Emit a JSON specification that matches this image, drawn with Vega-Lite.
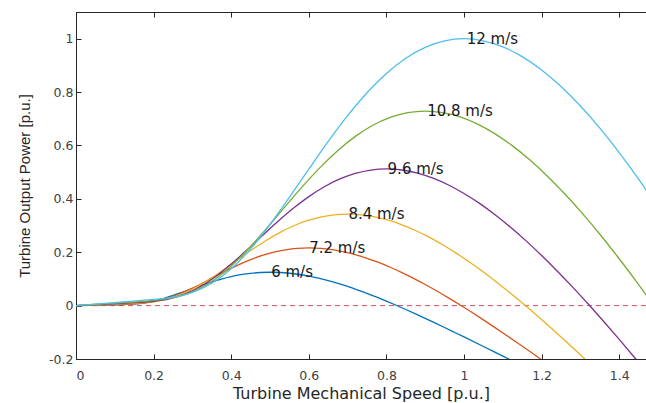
{
  "$schema": "https://vega.github.io/schema/vega-lite/v6.json",
  "width": 570,
  "height": 347,
  "autosize": "none",
  "padding": {"left": 76, "top": 12, "right": 0, "bottom": 44},
  "background": "white",
  "config": {
    "view": {"stroke": "#262626", "strokeWidth": 1},
    "font": "DejaVu Sans",
    "axis": {
      "grid": false,
      "domainColor": "#262626",
      "tickColor": "#262626",
      "tickSize": -5,
      "labelFont": "DejaVu Sans",
      "labelFontSize": 12.5,
      "labelColor": "#404040",
      "titleColor": "#262626",
      "titleFontWeight": "normal"
    }
  },
  "datasets": {
    "curves": [
      {"s":"6 m/s","x":0,"p":0},{"s":"6 m/s","x":0.025,"p":0.0007},{"s":"6 m/s","x":0.05,"p":0.0014},{"s":"6 m/s","x":0.075,"p":0.0022},{"s":"6 m/s","x":0.1,"p":0.0029},{"s":"6 m/s","x":0.125,"p":0.004},{"s":"6 m/s","x":0.15,"p":0.0062},{"s":"6 m/s","x":0.175,"p":0.0105},{"s":"6 m/s","x":0.2,"p":0.0173},{"s":"6 m/s","x":0.225,"p":0.0266},{"s":"6 m/s","x":0.25,"p":0.038},{"s":"6 m/s","x":0.275,"p":0.0507},{"s":"6 m/s","x":0.3,"p":0.0639},{"s":"6 m/s","x":0.325,"p":0.0769},{"s":"6 m/s","x":0.35,"p":0.089},{"s":"6 m/s","x":0.375,"p":0.0997},{"s":"6 m/s","x":0.4,"p":0.1087},{"s":"6 m/s","x":0.425,"p":0.1159},{"s":"6 m/s","x":0.45,"p":0.121},{"s":"6 m/s","x":0.475,"p":0.124},{"s":"6 m/s","x":0.5,"p":0.125},{"s":"6 m/s","x":0.525,"p":0.124},{"s":"6 m/s","x":0.55,"p":0.1212},{"s":"6 m/s","x":0.575,"p":0.1166},{"s":"6 m/s","x":0.6,"p":0.1104},{"s":"6 m/s","x":0.625,"p":0.1026},{"s":"6 m/s","x":0.65,"p":0.0935},{"s":"6 m/s","x":0.675,"p":0.0831},{"s":"6 m/s","x":0.7,"p":0.0717},{"s":"6 m/s","x":0.725,"p":0.0592},{"s":"6 m/s","x":0.75,"p":0.0459},{"s":"6 m/s","x":0.775,"p":0.0317},{"s":"6 m/s","x":0.8,"p":0.0169},{"s":"6 m/s","x":0.825,"p":0.0014},{"s":"6 m/s","x":0.85,"p":-0.0145},{"s":"6 m/s","x":0.875,"p":-0.0309},{"s":"6 m/s","x":0.9,"p":-0.0477},{"s":"6 m/s","x":0.925,"p":-0.0648},{"s":"6 m/s","x":0.95,"p":-0.0821},{"s":"6 m/s","x":0.975,"p":-0.0997},{"s":"6 m/s","x":1.0,"p":-0.1174},{"s":"6 m/s","x":1.05,"p":-0.1531},{"s":"6 m/s","x":1.1,"p":-0.1891},{"s":"6 m/s","x":1.15,"p":-0.225},
      {"s":"7.2 m/s","x":0,"p":0},{"s":"7.2 m/s","x":0.03,"p":0.0012},{"s":"7.2 m/s","x":0.06,"p":0.0025},{"s":"7.2 m/s","x":0.09,"p":0.0037},{"s":"7.2 m/s","x":0.12,"p":0.005},{"s":"7.2 m/s","x":0.15,"p":0.0069},{"s":"7.2 m/s","x":0.18,"p":0.0108},{"s":"7.2 m/s","x":0.21,"p":0.0181},{"s":"7.2 m/s","x":0.24,"p":0.0298},{"s":"7.2 m/s","x":0.27,"p":0.0459},{"s":"7.2 m/s","x":0.3,"p":0.0656},{"s":"7.2 m/s","x":0.33,"p":0.0876},{"s":"7.2 m/s","x":0.36,"p":0.1105},{"s":"7.2 m/s","x":0.39,"p":0.1329},{"s":"7.2 m/s","x":0.42,"p":0.1537},{"s":"7.2 m/s","x":0.45,"p":0.1723},{"s":"7.2 m/s","x":0.48,"p":0.1879},{"s":"7.2 m/s","x":0.51,"p":0.2002},{"s":"7.2 m/s","x":0.54,"p":0.209},{"s":"7.2 m/s","x":0.57,"p":0.2143},{"s":"7.2 m/s","x":0.6,"p":0.216},{"s":"7.2 m/s","x":0.63,"p":0.2143},{"s":"7.2 m/s","x":0.66,"p":0.2094},{"s":"7.2 m/s","x":0.69,"p":0.2015},{"s":"7.2 m/s","x":0.72,"p":0.1907},{"s":"7.2 m/s","x":0.75,"p":0.1773},{"s":"7.2 m/s","x":0.78,"p":0.1616},{"s":"7.2 m/s","x":0.81,"p":0.1437},{"s":"7.2 m/s","x":0.84,"p":0.1238},{"s":"7.2 m/s","x":0.87,"p":0.1023},{"s":"7.2 m/s","x":0.9,"p":0.0792},{"s":"7.2 m/s","x":0.93,"p":0.0548},{"s":"7.2 m/s","x":0.96,"p":0.0291},{"s":"7.2 m/s","x":0.99,"p":0.0025},{"s":"7.2 m/s","x":1.02,"p":-0.0251},{"s":"7.2 m/s","x":1.05,"p":-0.0534},{"s":"7.2 m/s","x":1.08,"p":-0.0824},{"s":"7.2 m/s","x":1.11,"p":-0.1119},{"s":"7.2 m/s","x":1.14,"p":-0.1419},{"s":"7.2 m/s","x":1.17,"p":-0.1722},{"s":"7.2 m/s","x":1.2,"p":-0.2028},
      {"s":"8.4 m/s","x":0,"p":0},{"s":"8.4 m/s","x":0.035,"p":0.002},{"s":"8.4 m/s","x":0.07,"p":0.0039},{"s":"8.4 m/s","x":0.105,"p":0.0059},{"s":"8.4 m/s","x":0.14,"p":0.008},{"s":"8.4 m/s","x":0.175,"p":0.011},{"s":"8.4 m/s","x":0.21,"p":0.0171},{"s":"8.4 m/s","x":0.245,"p":0.0287},{"s":"8.4 m/s","x":0.28,"p":0.0474},{"s":"8.4 m/s","x":0.315,"p":0.073},{"s":"8.4 m/s","x":0.35,"p":0.1042},{"s":"8.4 m/s","x":0.385,"p":0.1392},{"s":"8.4 m/s","x":0.42,"p":0.1754},{"s":"8.4 m/s","x":0.455,"p":0.211},{"s":"8.4 m/s","x":0.49,"p":0.2441},{"s":"8.4 m/s","x":0.525,"p":0.2736},{"s":"8.4 m/s","x":0.56,"p":0.2983},{"s":"8.4 m/s","x":0.595,"p":0.318},{"s":"8.4 m/s","x":0.63,"p":0.3319},{"s":"8.4 m/s","x":0.665,"p":0.3402},{"s":"8.4 m/s","x":0.7,"p":0.343},{"s":"8.4 m/s","x":0.735,"p":0.3403},{"s":"8.4 m/s","x":0.77,"p":0.3325},{"s":"8.4 m/s","x":0.805,"p":0.3199},{"s":"8.4 m/s","x":0.84,"p":0.3028},{"s":"8.4 m/s","x":0.875,"p":0.2815},{"s":"8.4 m/s","x":0.91,"p":0.2566},{"s":"8.4 m/s","x":0.945,"p":0.2281},{"s":"8.4 m/s","x":0.98,"p":0.1966},{"s":"8.4 m/s","x":1.015,"p":0.1624},{"s":"8.4 m/s","x":1.05,"p":0.1258},{"s":"8.4 m/s","x":1.085,"p":0.087},{"s":"8.4 m/s","x":1.12,"p":0.0463},{"s":"8.4 m/s","x":1.155,"p":0.0039},{"s":"8.4 m/s","x":1.19,"p":-0.0398},{"s":"8.4 m/s","x":1.225,"p":-0.0848},{"s":"8.4 m/s","x":1.26,"p":-0.1308},{"s":"8.4 m/s","x":1.295,"p":-0.1777},{"s":"8.4 m/s","x":1.33,"p":-0.2253},
      {"s":"9.6 m/s","x":0,"p":0},{"s":"9.6 m/s","x":0.04,"p":0.0029},{"s":"9.6 m/s","x":0.08,"p":0.0059},{"s":"9.6 m/s","x":0.12,"p":0.0088},{"s":"9.6 m/s","x":0.16,"p":0.0119},{"s":"9.6 m/s","x":0.2,"p":0.0164},{"s":"9.6 m/s","x":0.24,"p":0.0255},{"s":"9.6 m/s","x":0.28,"p":0.0429},{"s":"9.6 m/s","x":0.32,"p":0.0707},{"s":"9.6 m/s","x":0.36,"p":0.1089},{"s":"9.6 m/s","x":0.4,"p":0.1556},{"s":"9.6 m/s","x":0.44,"p":0.2077},{"s":"9.6 m/s","x":0.48,"p":0.2618},{"s":"9.6 m/s","x":0.52,"p":0.3149},{"s":"9.6 m/s","x":0.56,"p":0.3644},{"s":"9.6 m/s","x":0.6,"p":0.4084},{"s":"9.6 m/s","x":0.64,"p":0.4453},{"s":"9.6 m/s","x":0.68,"p":0.4746},{"s":"9.6 m/s","x":0.72,"p":0.4954},{"s":"9.6 m/s","x":0.76,"p":0.5079},{"s":"9.6 m/s","x":0.8,"p":0.512},{"s":"9.6 m/s","x":0.84,"p":0.508},{"s":"9.6 m/s","x":0.88,"p":0.4964},{"s":"9.6 m/s","x":0.92,"p":0.4775},{"s":"9.6 m/s","x":0.96,"p":0.452},{"s":"9.6 m/s","x":1.0,"p":0.4202},{"s":"9.6 m/s","x":1.04,"p":0.383},{"s":"9.6 m/s","x":1.08,"p":0.3405},{"s":"9.6 m/s","x":1.12,"p":0.2935},{"s":"9.6 m/s","x":1.16,"p":0.2425},{"s":"9.6 m/s","x":1.2,"p":0.1878},{"s":"9.6 m/s","x":1.24,"p":0.1298},{"s":"9.6 m/s","x":1.28,"p":0.0691},{"s":"9.6 m/s","x":1.32,"p":0.0059},{"s":"9.6 m/s","x":1.36,"p":-0.0594},{"s":"9.6 m/s","x":1.4,"p":-0.1266},{"s":"9.6 m/s","x":1.44,"p":-0.1953},{"s":"9.6 m/s","x":1.48,"p":-0.2653},
      {"s":"10.8 m/s","x":0,"p":0},{"s":"10.8 m/s","x":0.045,"p":0.0042},{"s":"10.8 m/s","x":0.09,"p":0.0084},{"s":"10.8 m/s","x":0.135,"p":0.0125},{"s":"10.8 m/s","x":0.18,"p":0.017},{"s":"10.8 m/s","x":0.225,"p":0.0234},{"s":"10.8 m/s","x":0.27,"p":0.0363},{"s":"10.8 m/s","x":0.315,"p":0.061},{"s":"10.8 m/s","x":0.36,"p":0.1007},{"s":"10.8 m/s","x":0.405,"p":0.1551},{"s":"10.8 m/s","x":0.45,"p":0.2215},{"s":"10.8 m/s","x":0.495,"p":0.2958},{"s":"10.8 m/s","x":0.54,"p":0.3728},{"s":"10.8 m/s","x":0.585,"p":0.4484},{"s":"10.8 m/s","x":0.63,"p":0.5189},{"s":"10.8 m/s","x":0.675,"p":0.5815},{"s":"10.8 m/s","x":0.72,"p":0.6341},{"s":"10.8 m/s","x":0.765,"p":0.6758},{"s":"10.8 m/s","x":0.81,"p":0.7054},{"s":"10.8 m/s","x":0.855,"p":0.7231},{"s":"10.8 m/s","x":0.9,"p":0.729},{"s":"10.8 m/s","x":0.945,"p":0.7232},{"s":"10.8 m/s","x":0.99,"p":0.7068},{"s":"10.8 m/s","x":1.035,"p":0.6799},{"s":"10.8 m/s","x":1.08,"p":0.6436},{"s":"10.8 m/s","x":1.125,"p":0.5984},{"s":"10.8 m/s","x":1.17,"p":0.5453},{"s":"10.8 m/s","x":1.215,"p":0.4849},{"s":"10.8 m/s","x":1.26,"p":0.4179},{"s":"10.8 m/s","x":1.305,"p":0.3453},{"s":"10.8 m/s","x":1.35,"p":0.2674},{"s":"10.8 m/s","x":1.395,"p":0.1849},{"s":"10.8 m/s","x":1.44,"p":0.0983},{"s":"10.8 m/s","x":1.485,"p":0.0084},
      {"s":"12 m/s","x":0,"p":0},{"s":"12 m/s","x":0.05,"p":0.0057},{"s":"12 m/s","x":0.1,"p":0.0115},{"s":"12 m/s","x":0.15,"p":0.0172},{"s":"12 m/s","x":0.2,"p":0.0233},{"s":"12 m/s","x":0.25,"p":0.0321},{"s":"12 m/s","x":0.3,"p":0.0498},{"s":"12 m/s","x":0.35,"p":0.0837},{"s":"12 m/s","x":0.4,"p":0.1381},{"s":"12 m/s","x":0.45,"p":0.2127},{"s":"12 m/s","x":0.5,"p":0.3039},{"s":"12 m/s","x":0.55,"p":0.4057},{"s":"12 m/s","x":0.6,"p":0.5114},{"s":"12 m/s","x":0.65,"p":0.6151},{"s":"12 m/s","x":0.7,"p":0.7118},{"s":"12 m/s","x":0.75,"p":0.7976},{"s":"12 m/s","x":0.8,"p":0.8698},{"s":"12 m/s","x":0.85,"p":0.927},{"s":"12 m/s","x":0.9,"p":0.9676},{"s":"12 m/s","x":0.95,"p":0.9919},{"s":"12 m/s","x":1.0,"p":1.0},{"s":"12 m/s","x":1.05,"p":0.9921},{"s":"12 m/s","x":1.1,"p":0.9695},{"s":"12 m/s","x":1.15,"p":0.9327},{"s":"12 m/s","x":1.2,"p":0.8828},{"s":"12 m/s","x":1.25,"p":0.8208},{"s":"12 m/s","x":1.3,"p":0.748},{"s":"12 m/s","x":1.35,"p":0.6651},{"s":"12 m/s","x":1.4,"p":0.5733},{"s":"12 m/s","x":1.45,"p":0.4736},{"s":"12 m/s","x":1.5,"p":0.3668}
    ],
    "labels": [
      {"t":"6 m/s","x":0.503,"p":0.125},
      {"t":"7.2 m/s","x":0.601,"p":0.216},
      {"t":"8.4 m/s","x":0.702,"p":0.343},
      {"t":"9.6 m/s","x":0.803,"p":0.512},
      {"t":"10.8 m/s","x":0.905,"p":0.729},
      {"t":"12 m/s","x":1.007,"p":1.0}
    ]
  },
  "resolve": {"axis": {"x": "independent"}},
  "layer": [
    {
      "data": {"values": [{"z": 0}]},
      "mark": {"type": "rule", "stroke": "#cf3a4e", "strokeWidth": 1, "strokeDash": [5, 4], "opacity": 0.9},
      "encoding": {
        "y": {"field": "z", "type": "quantitative", "scale": {"domain": [-0.2, 1.1], "nice": false, "zero": false},
          "axis": {"values": [-0.2, 0, 0.2, 0.4, 0.6, 0.8, 1], "labelExpr": "toString(round(datum.value*10)/10)", "labelPadding": 8,
            "title": "Turbine Output Power [p.u.]", "titleFont": "Liberation Sans", "titleFontSize": 15, "titlePadding": 16}}
      }
    },
    {
      "data": {"name": "curves"},
      "mark": {"type": "line", "clip": true, "interpolate": "monotone", "strokeWidth": 1.3},
      "encoding": {
        "x": {"field": "x", "type": "quantitative", "scale": {"domain": [0, 1.469], "nice": false, "zero": false},
          "axis": {"values": [0, 0.2, 0.4, 0.6, 0.8, 1, 1.2, 1.4], "labelExpr": "toString(round(datum.value*10)/10)", "labelPadding": 15,
            "title": "Turbine Mechanical Speed [p.u.]", "titleFont": "DejaVu Sans", "titleFontSize": 16, "titlePadding": 4}},
        "y": {"field": "p", "type": "quantitative"},
        "color": {"field": "s", "type": "nominal", "legend": null,
          "scale": {"domain": ["6 m/s", "7.2 m/s", "8.4 m/s", "9.6 m/s", "10.8 m/s", "12 m/s"],
            "range": ["#0072BD", "#D95319", "#EDB120", "#7E2F8E", "#77AC30", "#4DBEEE"]}}
      }
    },
    {
      "data": {"name": "labels"},
      "mark": {"type": "text", "align": "left", "baseline": "middle", "font": "DejaVu Sans", "fontSize": 15, "color": "#1a1a1a"},
      "encoding": {
        "x": {"field": "x", "type": "quantitative", "axis": null},
        "y": {"field": "p", "type": "quantitative"},
        "text": {"field": "t", "type": "nominal"}
      }
    },
    {
      "data": {"values": [{"x": 0}]},
      "mark": {"type": "point", "opacity": 0},
      "encoding": {
        "x": {"field": "x", "type": "quantitative",
          "axis": {"orient": "top", "values": [0, 0.2, 0.4, 0.6, 0.8, 1, 1.2, 1.4], "labels": false, "title": null}}
      }
    }
  ]
}
